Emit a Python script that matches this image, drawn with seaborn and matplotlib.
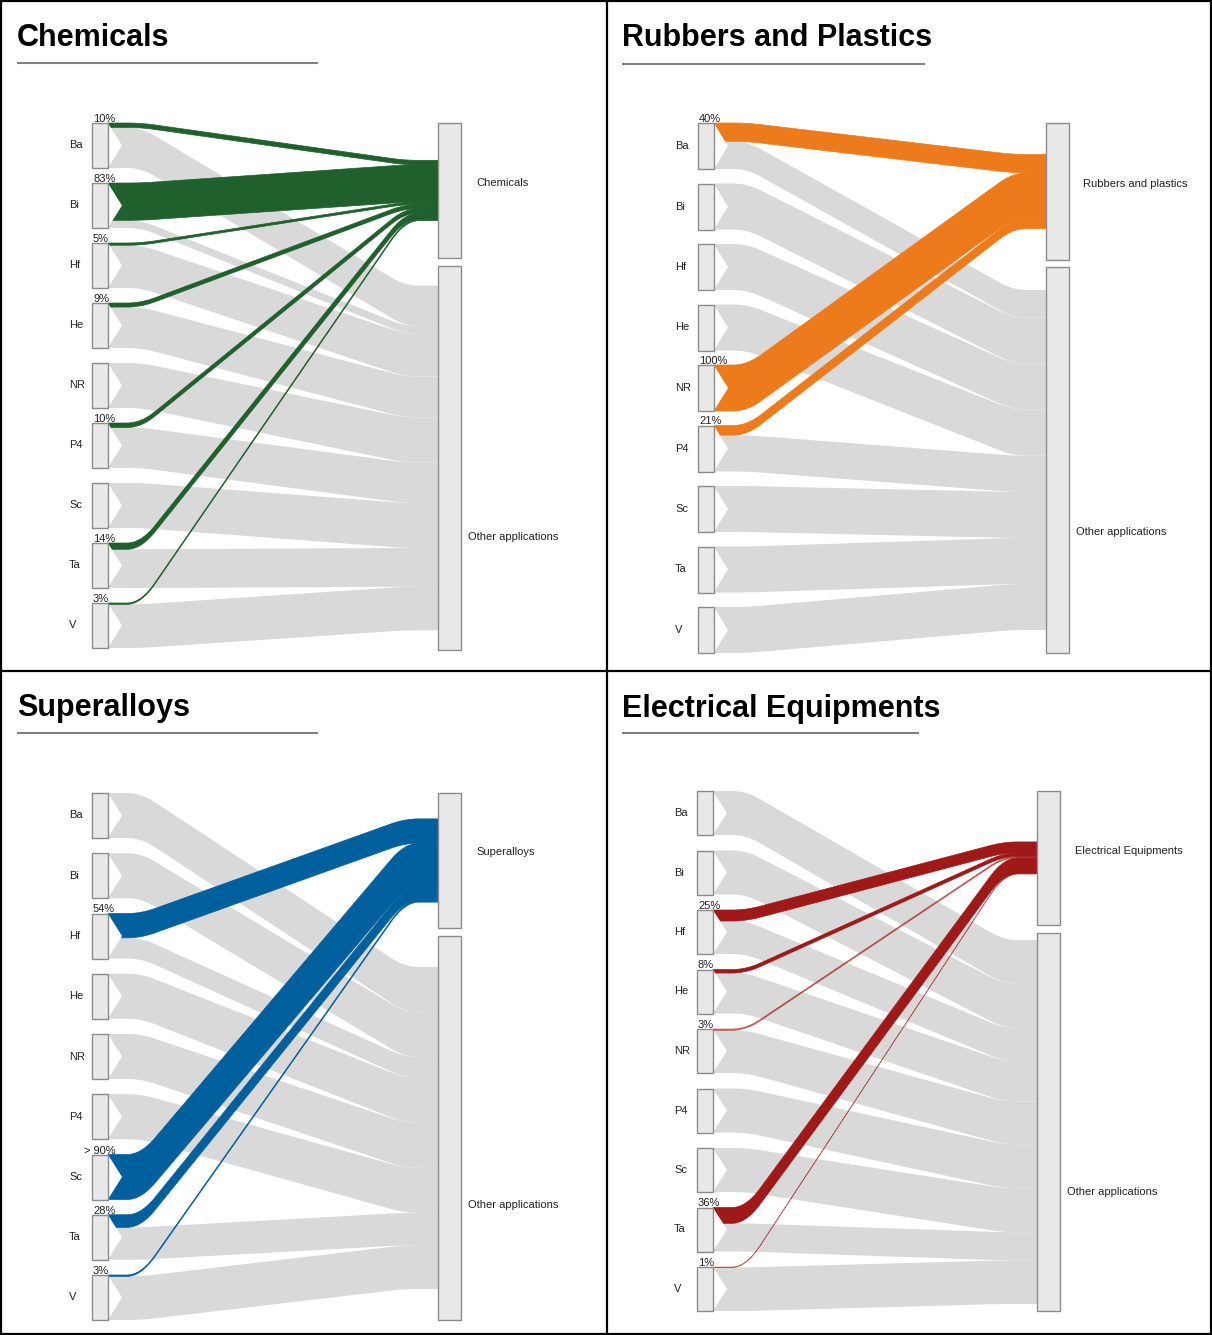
import numpy as np
import matplotlib
matplotlib.use("Agg")
import matplotlib.pyplot as plt
from matplotlib.patches import Rectangle, Polygon
from matplotlib.lines import Line2D
import seaborn as sns

# ---- data ----
sources = ['Ba', 'Bi', 'Hf', 'He', 'NR', 'P4', 'Sc', 'Ta', 'V']

panel_titles = ['Chemicals', 'Rubbers and Plastics', 'Superalloys', 'Electrical Equipments']
target_labels = ['Chemicals', 'Rubbers and plastics', 'Superalloys', 'Electrical Equipments']
other_label = 'Other applications'
panel_colors = ['#1f602d', '#ee7b1b', '#005f9d', '#a01919']

chem_share = [0.10, 0.83, 0.05, 0.09, 0.0, 0.10, 0.0, 0.14, 0.03]
chem_labels = ['10%', '83%', '5%', '9%', '', '10%', '', '14%', '3%']
rubber_share = [0.40, 0.0, 0.0, 0.0, 1.00, 0.21, 0.0, 0.0, 0.0]
rubber_labels = ['40%', '', '', '', '100%', '21%', '', '', '']
alloy_share = [0.0, 0.0, 0.54, 0.0, 0.0, 0.0, 1.00, 0.28, 0.03]
alloy_labels = ['', '', '54%', '', '', '', '> 90%', '28%', '3%']
elec_share = [0.0, 0.0, 0.25, 0.08, 0.03, 0.0, 0.0, 0.36, 0.01]
elec_labels = ['', '', '25%', '8%', '3%', '', '', '36%', '1%']

shares = [chem_share, rubber_share, alloy_share, elec_share]
pct_labels = [chem_labels, rubber_labels, alloy_labels, elec_labels]

# ---- layout (pixels, local to each panel) ----
W, H = 1212, 1335
panels = [(0, 0, 607, 671), (607, 0, 605, 671), (0, 671, 607, 664), (607, 671, 605, 664)]
layout = [
    dict(sx=92, top0=123, step=60.0, h=45, tx=438, app=(123, 258), oth=(266, 650),
         title=(17, 38), uline=(17, 318, 63), app_lab=(476, 183), oth_lab=(468, 537)),
    dict(sx=91, top0=123, step=60.5, h=46, tx=439, app=(123, 260), oth=(267, 653),
         title=(15, 38), uline=(15, 318, 64), app_lab=(476, 184), oth_lab=(469, 532)),
    dict(sx=92, top0=122, step=60.25, h=45, tx=438, app=(122, 257), oth=(265, 649),
         title=(17, 37), uline=(17, 318, 62), app_lab=(476, 181), oth_lab=(468, 534)),
    dict(sx=90, top0=120, step=59.5, h=44, tx=430, app=(120, 254), oth=(262, 640),
         title=(15, 38), uline=(15, 312, 62), app_lab=(468, 180), oth_lab=(460, 521)),
]
NODE_W, TGT_W = 16, 23
GREY = '#d9d9d9'
TXT = '#222222'


def ramp_integral(u, x1, x2):
    L = x2 - x1
    return np.where(u < x1, 0.0, np.where(u <= x2, (u - x1) ** 2 / (2 * L), L / 2 + (u - x2)))


def profile(x, x1, x2, r):
    # straight ramp from x1 to x2 with rounded corners
    return (ramp_integral(x + r, x1, x2) - ramp_integral(x - r, x1, x2)) / (2 * r)


def band(ax, xs, xt, y0, y1, th, color, lw=0.0, alpha=1.0):
    x = np.linspace(xs, xt, 300)
    s = profile(x, xs + 33, xt - 33, 14)
    top = y0 + (y1 - y0) * s
    bot = top + th
    pts = np.column_stack([np.r_[x, x[::-1]], np.r_[top, bot[::-1]]])
    ax.add_patch(Polygon(pts, closed=True, facecolor=color, edgecolor=color if lw else 'none',
                         lw=lw, alpha=alpha, zorder=2 if color == GREY else 3))


sns.set_theme(style='white')
plt.rcParams['font.family'] = ['Liberation Sans', 'DejaVu Sans']

fig = plt.figure(figsize=(W / 100, H / 100), dpi=100)

for k, (px, py, pw, ph) in enumerate(panels):
    ax = fig.add_axes([px / W, 1 - (py + ph) / H, pw / W, ph / H])
    ax.set_xlim(0, pw)
    ax.set_ylim(ph, 0)
    ax.axis('off')
    L = layout[k]
    share = np.array(shares[k])
    h = L['h']
    tops = L['top0'] + L['step'] * np.arange(len(sources))
    xs = L['sx'] + NODE_W
    xt = L['tx']

    col_th = share * h
    grey_th = (1 - share) * h
    app_c = sum(L['app']) / 2
    oth_c = sum(L['oth']) / 2
    app_y = app_c - col_th.sum() / 2 + np.r_[0, np.cumsum(col_th)[:-1]]
    oth_y = oth_c - grey_th.sum() / 2 + np.r_[0, np.cumsum(grey_th)[:-1]]

    for i in range(len(sources)):
        if grey_th[i] > 0:
            band(ax, xs, xt, tops[i] + col_th[i], oth_y[i], grey_th[i], GREY)
    for i in range(len(sources)):
        if col_th[i] > 0:
            thin = col_th[i] < 1.5 and k == 3
            band(ax, xs, xt, tops[i], app_y[i], col_th[i], panel_colors[k],
                 lw=0.5, alpha=0.6 if thin else 1.0)

    for i, name in enumerate(sources):
        t = tops[i]
        ax.add_patch(Polygon([(xs - 0.5, t - 0.5), (xs + 14, t + h / 2), (xs - 0.5, t + h + 0.5)],
                             closed=True, facecolor='white', edgecolor='none', zorder=4))
        ax.add_patch(Rectangle((L['sx'], t), NODE_W, h, facecolor='#e8e8e8',
                               edgecolor='#8c8c8c', lw=1, zorder=5))
        ax.text(L['sx'] - 23, t + h / 2, name, fontsize=8, color=TXT,
                ha='left', va='center')
        lab = pct_labels[k][i]
        if lab:
            if lab.startswith('>'):
                ax.text(L['sx'] + 24, t + 1, lab, fontsize=8, color=TXT,
                        ha='right', va='bottom', zorder=6)
            else:
                ax.text(L['sx'] + 1, t + 1, lab, fontsize=8, color=TXT,
                        ha='left', va='bottom', zorder=6)

    for (y0, y1) in (L['app'], L['oth']):
        ax.add_patch(Rectangle((xt, y0), TGT_W, y1 - y0, facecolor='#e8e8e8',
                               edgecolor='#8c8c8c', lw=1, zorder=5))
    ax.text(*L['app_lab'], target_labels[k], fontsize=8, color=TXT, ha='left', va='center')
    ax.text(*L['oth_lab'], other_label, fontsize=8, color=TXT, ha='left', va='center')

    ax.text(*L['title'], panel_titles[k], fontsize=22, fontweight='bold', color='black',
            ha='left', va='center')
    x0, x1, yl = L['uline']
    ax.plot([x0, x1], [yl, yl], color='#808080', lw=1.5, solid_capstyle='butt')

# panel borders
for xx, yy in [([1 / W, 1 / W], [0, 1]), ([1 - 1 / W, 1 - 1 / W], [0, 1]),
               ([0, 1], [1 - 1 / H, 1 - 1 / H]), ([0, 1], [1 / H, 1 / H]),
               ([607 / W, 607 / W], [0, 1]), ([0, 1], [1 - 671 / H, 1 - 671 / H])]:
    fig.add_artist(Line2D(xx, yy, transform=fig.transFigure, color='black', lw=1.6))

fig.savefig('out.png', dpi=100, facecolor='white')
